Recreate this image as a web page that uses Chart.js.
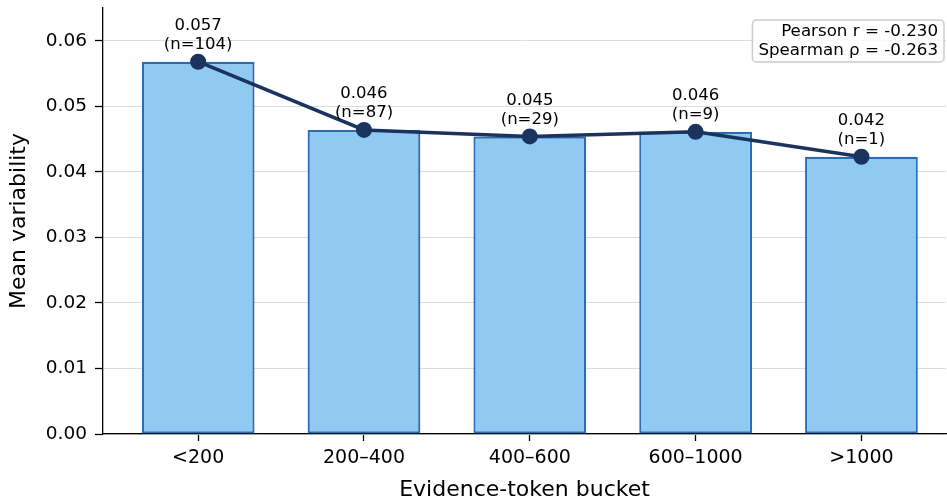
<!DOCTYPE html>
<html>
<head>
<meta charset="utf-8">
<script src="https://cdn.jsdelivr.net/npm/chart.js@4/dist/chart.umd.min.js"></script>
<style>
  html, body { margin: 0; padding: 0; background: #fff; overflow: hidden; }
  #wrap { width: 947px; height: 503px; overflow: hidden; }
</style>
</head>
<body>
<div id="wrap"><canvas id="chart" width="954" height="503"></canvas></div>
<script>
// Mean variability per evidence-token bucket, bars + line, with sample sizes.
const buckets = ["<200", "200–400", "400–600", "600–1000", ">1000"];
const meanVariability = [0.0568, 0.0464, 0.0454, 0.0461, 0.0423];
const sampleCounts = [104, 87, 29, 9, 1];
const yTickValues = [0, 0.01, 0.02, 0.03, 0.04, 0.05, 0.06];
const pearsonR = -0.230;
const spearmanRho = -0.263;

const FONT = "'DejaVu Sans', sans-serif";

// value + (n=...) above each line point
const pointLabels = {
    id: "pointLabels",
    afterDatasetsDraw(chart) {
        const ctx = chart.ctx;
        const meta = chart.getDatasetMeta(1);
        ctx.save();
        ctx.fillStyle = "#000";
        ctx.font = "16.5px " + FONT;
        ctx.textAlign = "center";
        ctx.textBaseline = "middle";
        meta.data.forEach(function (pt, i) {
            ctx.fillText(meanVariability[i].toFixed(3), pt.x, pt.y - 36);
            ctx.fillText("(n=" + sampleCounts[i] + ")", pt.x, pt.y - 17);
        });
        ctx.restore();
    }
};

// correlation box in the top-right corner
const corrBox = {
    id: "corrBox",
    afterDraw(chart) {
        const ctx = chart.ctx;
        const lines = [
            "Pearson r = " + pearsonR.toFixed(3),
            "Spearman ρ = " + spearmanRho.toFixed(3)
        ];
        ctx.save();
        ctx.font = "16.7px " + FONT;
        const w = Math.max(...lines.map(t => ctx.measureText(t).width));
        const right = 944, top = 20, lh = 19;
        const x0 = right - w - 12, h = lh * lines.length + 4;
        ctx.beginPath();
        ctx.roundRect(x0, top, right - x0, h, 4);
        ctx.fillStyle = "rgba(255,255,255,0.85)";
        ctx.fill();
        ctx.strokeStyle = "#cccccc";
        ctx.lineWidth = 1.5;
        ctx.stroke();
        ctx.fillStyle = "#000";
        ctx.textAlign = "right";
        ctx.textBaseline = "middle";
        lines.forEach((t, i) => ctx.fillText(t, right - 6, top + 12 + i * lh));
        ctx.restore();
    }
};

new Chart(document.getElementById("chart"), {
    type: "bar",
    data: {
        datasets: [
            {
                type: "bar",
                data: meanVariability.map((v, i) => ({ x: i, y: v })),
                backgroundColor: "#90caf2",
                borderColor: "#2d6bb2",
                borderWidth: 2.2,
                borderSkipped: false,
                barPercentage: 0.68,
                categoryPercentage: 1,
                order: 2
            },
            {
                type: "line",
                data: meanVariability.map((v, i) => ({ x: i, y: v })),
                borderColor: "#1a345d",
                backgroundColor: "#1a345d",
                borderWidth: 3.5,
                pointRadius: 8,
                pointBorderWidth: 0,
                tension: 0,
                order: 1
            }
        ]
    },
    options: {
        responsive: false,
        animation: false,
        devicePixelRatio: 1,
        layout: { padding: { top: 7, right: 1, left: 0, bottom: 0 } },
        plugins: { legend: { display: false }, tooltip: { enabled: false } },
        scales: {
            x: {
                type: "linear",
                offset: false,
                min: -0.574,
                max: 4.51,
                afterBuildTicks: s => { s.ticks = buckets.map((b, i) => ({ value: i })); },
                afterFit: s => { s.height = 69; s.paddingLeft = 0; s.paddingRight = 0; },
                ticks: {
                    callback: v => buckets[v],
                    font: { family: FONT, size: 19 },
                    color: "#000",
                    padding: 6,
                    autoSkip: false,
                    maxRotation: 0
                },
                grid: { offset: false, drawOnChartArea: false, tickLength: 7, tickColor: "#000", tickWidth: 1.3 },
                border: { color: "#000", width: 1.3 },
                title: {
                    display: true,
                    text: "Evidence-token bucket",
                    font: { family: FONT, size: 22 },
                    color: "#000",
                    padding: { top: 1, bottom: 0 }
                }
            },
            y: {
                min: 0,
                max: 0.065,
                afterBuildTicks: s => { s.ticks = yTickValues.map(v => ({ value: v })); },
                afterFit: s => { s.width = 103; s.paddingTop = 0; s.paddingBottom = 0; },
                ticks: {
                    callback: v => v.toFixed(2),
                    font: { family: FONT, size: 18.5 },
                    color: "#000",
                    padding: 8
                },
                grid: { color: "#dcdcdc", lineWidth: 1, tickLength: 8, tickColor: "#000", tickWidth: 1.3 },
                border: { color: "#000", width: 1.3 },
                title: {
                    display: true,
                    text: "Mean variability",
                    font: { family: FONT, size: 22 },
                    color: "#000",
                    padding: { top: 6, bottom: 4 }
                }
            }
        }
    },
    plugins: [pointLabels, corrBox]
});
</script>
</body>
</html>
